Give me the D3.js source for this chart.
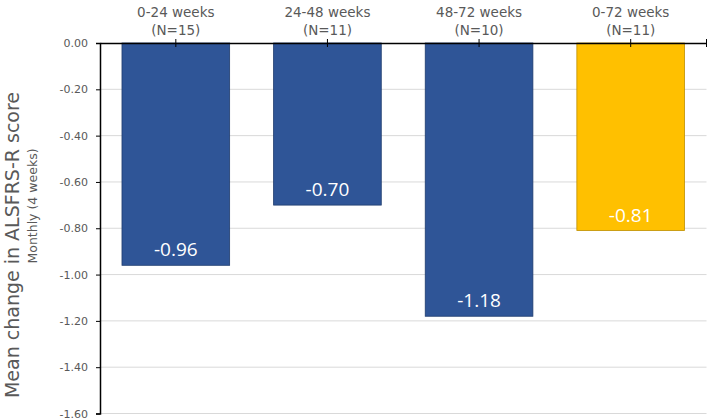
<!DOCTYPE html>
<html>
<head>
<meta charset="utf-8">
<script src="https://cdn.jsdelivr.net/npm/d3@7"></script>
<style>
  body { margin: 0; background: #fff; }
  svg text { font-family: "DejaVu Sans", Verdana, sans-serif; }
</style>
</head>
<body>
<div id="chart"></div>
<script>
const periods = ["0-24 weeks", "24-48 weeks", "48-72 weeks", "0-72 weeks"];
const counts = ["(N=15)", "(N=11)", "(N=10)", "(N=11)"];
const values = [-0.96, -0.70, -1.18, -0.81];
const yTicks = [0, -0.2, -0.4, -0.6, -0.8, -1.0, -1.2, -1.4, -1.6];

const width = 711, height = 418;
const margin = {top: 43, right: 4.5, bottom: 4.5, left: 100};

const svg = d3.select("#chart")
  .append("svg")
  .attr("width", width)
  .attr("height", height);

const x = d3.scaleBand()
  .domain(periods)
  .range([margin.left, width - margin.right])
  .paddingInner(0.29)
  .paddingOuter(0.145);

const y = d3.scaleLinear()
  .domain([0, -1.6])
  .range([margin.top, height - margin.bottom]);

// gridlines
svg.append("g")
  .selectAll("line")
  .data(yTicks.slice(1))
  .enter()
  .append("line")
  .attr("x1", margin.left)
  .attr("x2", width - margin.right)
  .attr("y1", d => y(d))
  .attr("y2", d => y(d))
  .attr("stroke", "#d9d9d9")
  .attr("stroke-width", 1);

// bars
svg.append("g")
  .selectAll("rect")
  .data(values)
  .enter()
  .append("rect")
  .attr("x", (d, i) => x(periods[i]))
  .attr("y", y(0))
  .attr("width", x.bandwidth())
  .attr("height", d => y(d) - y(0))
  .attr("fill", (d, i) => i == 3 ? "#ffc000" : "#2f5597")
  .attr("stroke", (d, i) => i == 3 ? "#bf9000" : "#1f3c6e")
  .attr("stroke-width", 0.8);

// value labels
svg.append("g")
  .selectAll("text")
  .data(values)
  .enter()
  .append("text")
  .attr("x", (d, i) => x(periods[i]) + x.bandwidth() / 2)
  .attr("y", d => y(d) - 9)
  .attr("text-anchor", "middle")
  .attr("fill", "#fff")
  .style("font-family", "'Open Sans', 'Noto Sans', sans-serif")
  .attr("font-size", 19)
  .text(d => d.toFixed(2));

// y axis
const yAxis = d3.axisLeft(y)
  .tickValues(yTicks)
  .tickSize(4)
  .tickFormat(d => d.toFixed(2));

const gy = svg.append("g")
  .attr("transform", `translate(${margin.left},0)`)
  .call(yAxis);
gy.select(".domain").attr("stroke", "#000").attr("stroke-width", 1.5);
gy.selectAll(".tick line").attr("stroke", "#000");
gy.selectAll(".tick text")
  .attr("fill", "#595959")
  .attr("font-size", 11)
  .attr("x", -12);

// x axis along the zero line
const xAxis = d3.axisTop(x).tickSize(0).tickFormat("");
const gx = svg.append("g")
  .attr("transform", `translate(0,${y(0)})`)
  .call(xAxis);
gx.select(".domain").attr("stroke", "#000").attr("stroke-width", 1.5);

// crossing ticks at centres and end
const crossTicks = periods.map(p => x(p) + x.bandwidth() / 2).concat([width - margin.right]);
gx.selectAll(".cross")
  .data(crossTicks)
  .enter()
  .append("line")
  .attr("class", "cross")
  .attr("x1", d => d)
  .attr("x2", d => d)
  .attr("y1", -4)
  .attr("y2", 4)
  .attr("stroke", "#000")
  .attr("stroke-width", 1);

// category labels above
const cat = svg.append("g")
  .selectAll("text")
  .data(periods)
  .enter()
  .append("text")
  .attr("text-anchor", "middle")
  .attr("fill", "#595959")
  .attr("font-size", 13.5);
cat.append("tspan")
  .attr("x", d => x(d) + x.bandwidth() / 2)
  .attr("y", 17)
  .text(d => d);
cat.append("tspan")
  .attr("x", d => x(d) + x.bandwidth() / 2)
  .attr("y", 35)
  .text((d, i) => counts[i]);

// y titles
svg.append("text")
  .attr("transform", "translate(19,245) rotate(-90)")
  .attr("text-anchor", "middle")
  .attr("fill", "#595959")
  .attr("font-size", 19)
  .text("Mean change in ALSFRS-R score");

svg.append("text")
  .attr("transform", "translate(37,206) rotate(-90)")
  .attr("text-anchor", "middle")
  .attr("fill", "#595959")
  .attr("font-size", 12.5)
  .text("Monthly (4 weeks)");
</script>
</body>
</html>
